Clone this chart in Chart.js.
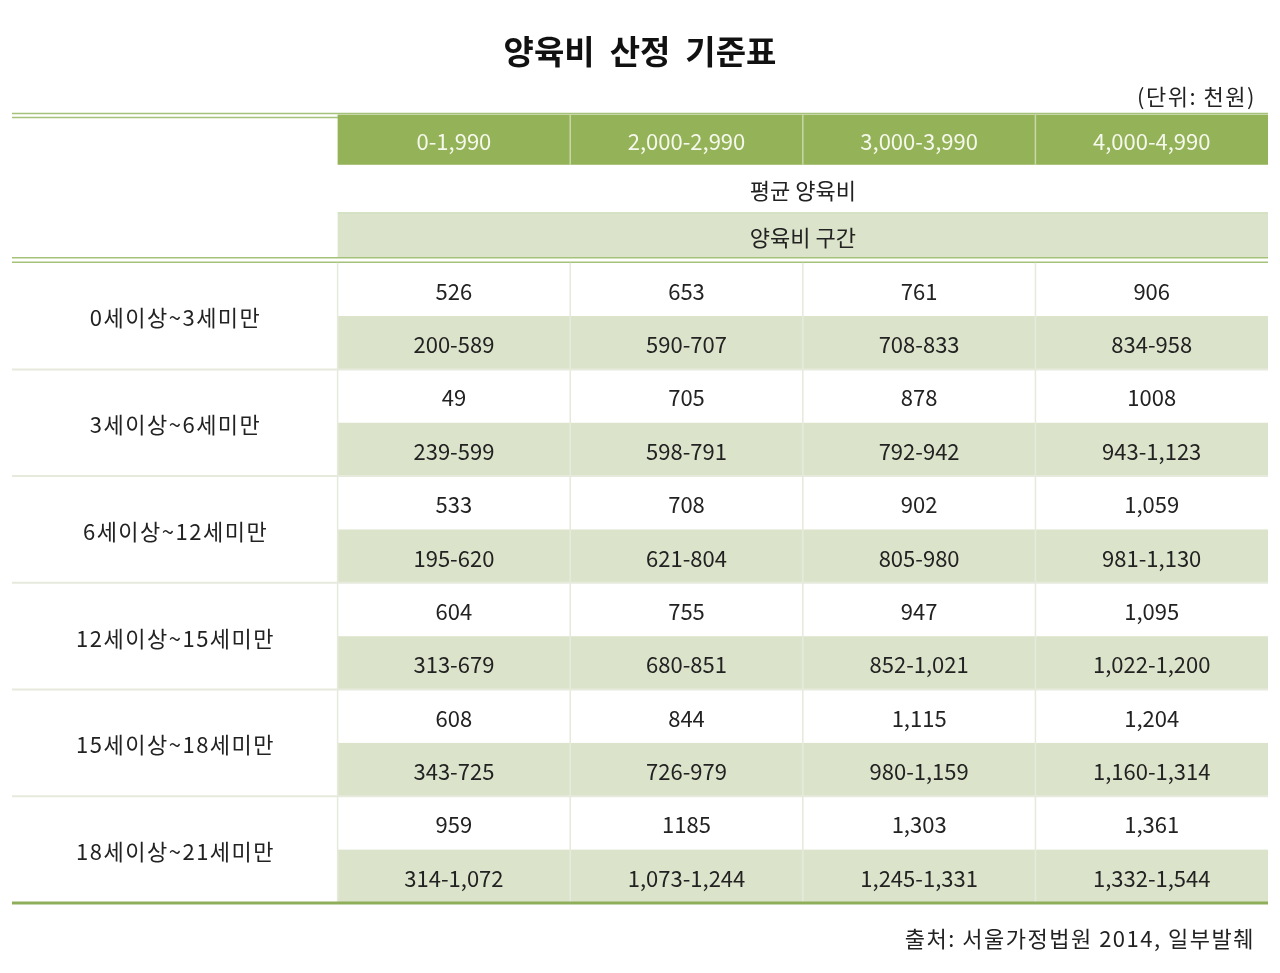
<!DOCTYPE html>
<html>
<head>
<meta charset="utf-8">
<script src="https://cdn.jsdelivr.net/npm/chart.js@4"></script>
<style>
  body { margin: 0; background: #fff; }
  canvas { display: block; }
</style>
</head>
<body>
<canvas id="tableChart" width="1280" height="973"></canvas>
<script>
// 소득 구간 (열)
const incomeBands = ["0-1,990", "2,000-2,990", "3,000-3,990", "4,000-4,990"];
// 자녀 나이 (행)
const ageGroups = ["0세이상~3세미만", "3세이상~6세미만", "6세이상~12세미만", "12세이상~15세미만", "15세이상~18세미만", "18세이상~21세미만"];
// 평균 양육비
const avgCost = [
    ["526", "653", "761", "906"],
    ["49", "705", "878", "1008"],
    ["533", "708", "902", "1,059"],
    ["604", "755", "947", "1,095"],
    ["608", "844", "1,115", "1,204"],
    ["959", "1185", "1,303", "1,361"]
];
// 양육비 구간
const costRange = [
    ["200-589", "590-707", "708-833", "834-958"],
    ["239-599", "598-791", "792-942", "943-1,123"],
    ["195-620", "621-804", "805-980", "981-1,130"],
    ["313-679", "680-851", "852-1,021", "1,022-1,200"],
    ["343-725", "726-979", "980-1,159", "1,160-1,314"],
    ["314-1,072", "1,073-1,244", "1,245-1,331", "1,332-1,544"]
];
const headerRows = ["평균 양육비", "양육비 구간"];

const FONT = '"Noto Sans CJK KR", "Noto Sans", sans-serif';
const GREEN = "#94b257";
const LIGHT = "#dbe4cb";
const LINE = "#a5c27a";
const SEP = "#e6eadc";

// layout in scale units: label column width, header heights (data row = 1)
const labelW = 1.4;
const hHead = 0.94, hAvg = 0.9, hRange = 0.84, hGap = 0.095;
const bodyTop = hHead + hAvg + hRange + hGap;

const tablePlugin = {
    id: "tablePlugin",
    afterDraw(chart) {
        const { ctx, scales: { x, y } } = chart;
        const px = v => x.getPixelForValue(v);
        const py = v => y.getPixelForValue(v);
        const left = px(0), right = px(labelW + incomeBands.length);
        ctx.save();

        function rect(x0, y0, x1, y1, color) {
            ctx.fillStyle = color;
            ctx.fillRect(px(x0), py(y0), px(x1) - px(x0), py(y1) - py(y0));
        }
        function hline(v, color, w, x0) {
            ctx.strokeStyle = color; ctx.lineWidth = w;
            ctx.beginPath(); ctx.moveTo(x0 === undefined ? left : px(x0), py(v)); ctx.lineTo(right, py(v)); ctx.stroke();
        }
        function vline(xv, y0, y1, color, w) {
            ctx.strokeStyle = color; ctx.lineWidth = w;
            ctx.beginPath(); ctx.moveTo(px(xv), py(y0)); ctx.lineTo(px(xv), py(y1)); ctx.stroke();
        }
        function text(s, xv, yv, color, size, spacing) {
            ctx.fillStyle = color;
            ctx.font = size + "px " + FONT;
            ctx.letterSpacing = (spacing || 0) + "px";
            ctx.textAlign = "center"; ctx.textBaseline = "middle";
            ctx.fillText(s, px(xv) + (spacing || 0) / 2, py(yv) + 2);
        }

        // top double line
        hline(-0.02, LINE, 1.5);
        hline(0.055, LINE, 1.5);

        // header
        const nc = incomeBands.length;
        rect(labelW, 0, labelW + nc, hHead, GREEN);
        rect(labelW, hHead + hAvg, labelW + nc, hHead + hAvg + hRange, LIGHT);
        hline(hHead + hAvg, "#cbd8b3", 1, labelW);
        incomeBands.forEach((b, i) => {
            if (i > 0) vline(labelW + i, 0, hHead, "#c8d8a8", 1.5);
            text(b, labelW + i + 0.5, hHead / 2, "#f5f8ec", 22);
        });
        text(headerRows[0], labelW + nc / 2, hHead + hAvg / 2, "#222", 22);
        text(headerRows[1], labelW + nc / 2, hHead + hAvg + hRange / 2, "#222", 22);

        // header/body double line
        hline(bodyTop - hGap + 0.005, LINE, 1.5);
        hline(bodyTop - 0.01, LINE, 1.5);

        // body
        ageGroups.forEach((age, r) => {
            const top = bodyTop + r * 2;
            rect(labelW, top + 1, labelW + nc, top + 2, LIGHT);
            if (r > 0) hline(top, SEP, 2);
            text(age, labelW / 2, top + 1, "#222", 22, 1.5);
            for (let c = 0; c < nc; c++) {
                text(avgCost[r][c], labelW + c + 0.5, top + 0.5, "#222", 22);
                text(costRange[r][c], labelW + c + 0.5, top + 1.5, "#222", 22);
            }
        });
        const bodyEnd = bodyTop + ageGroups.length * 2;
        for (let c = 0; c < nc; c++) {
            vline(labelW + c, bodyTop, bodyEnd, SEP, 1.5);
        }
        hline(bodyEnd, "#8fae5a", 3);

        // unit + source
        ctx.fillStyle = "#222";
        ctx.font = "22px " + FONT;
        ctx.letterSpacing = "1.5px";
        ctx.textAlign = "right"; ctx.textBaseline = "middle";
        ctx.fillText("(단위: 천원)", 1256, 97);
        ctx.fillText("출처: 서울가정법원 2014, 일부발췌", 1255, 939);
        ctx.restore();
    }
};

new Chart(document.getElementById("tableChart").getContext("2d"), {
    type: "scatter",
    data: { datasets: [{ data: [] }] },
    options: {
        responsive: false,
        animation: false,
        layout: { padding: { left: 12, right: 12, top: 0, bottom: 70 } },
        scales: {
            x: { type: "linear", display: false, min: 0, max: labelW + incomeBands.length },
            y: { type: "linear", display: false, reverse: true, min: 0, max: bodyTop + ageGroups.length * 2 }
        },
        plugins: {
            legend: { display: false },
            tooltip: { enabled: false },
            title: {
                display: true,
                text: "양육비  산정  기준표",
                color: "#111",
                font: { family: FONT, size: 33, weight: "bold", lineHeight: 1.2 },
                padding: { top: 32, bottom: 43 }
            }
        }
    },
    plugins: [tablePlugin]
});
</script>
</body>
</html>
